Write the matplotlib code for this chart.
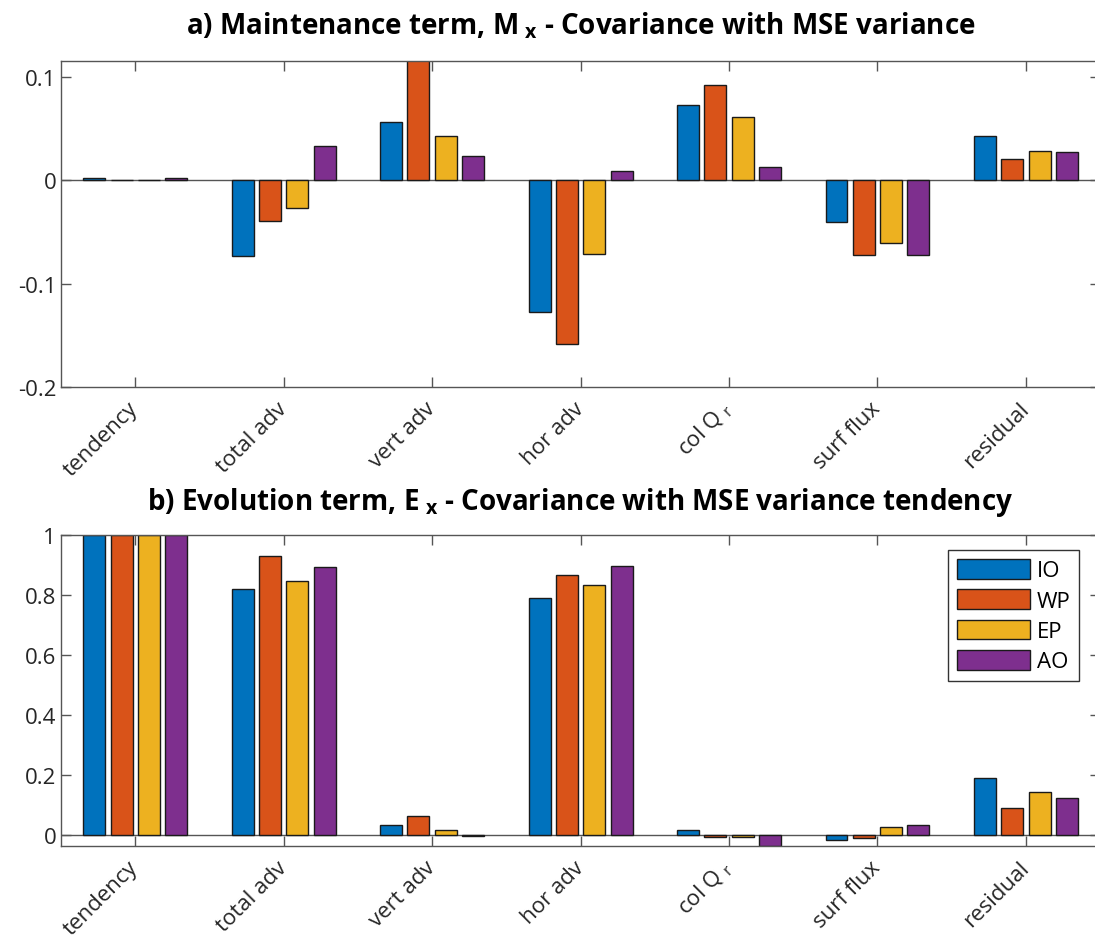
import numpy as np
import matplotlib
matplotlib.use('Agg')
import matplotlib.pyplot as plt
from matplotlib.patches import Patch

plt.rcParams['font.family'] = ['Open Sans', 'DejaVu Sans']
plt.rcParams['mathtext.fontset'] = 'custom'
plt.rcParams['mathtext.rm'] = 'Open Sans'
plt.rcParams['mathtext.bf'] = 'Open Sans:bold'

categories = ['tendency', 'total adv', 'vert adv', 'hor adv',
              'col Q$_\\mathregular{\\ r}$', 'surf flux', 'residual']
regions = ['IO', 'WP', 'EP', 'AO']
colors = ['#0072BD', '#D95319', '#EDB120', '#7E2F8E']

# a) maintenance term
maint_io = [0.002, -0.073, 0.056, -0.128, 0.072, -0.041, 0.043]
maint_wp = [0.0, -0.040, 0.118, -0.158, 0.092, -0.072, 0.020]
maint_ep = [0.0, -0.027, 0.043, -0.071, 0.061, -0.061, 0.028]
maint_ao = [0.002, 0.033, 0.023, 0.009, 0.013, -0.072, 0.027]

# b) evolution term
evol_io = [1.0, 0.82, 0.032, 0.789, 0.017, -0.016, 0.19]
evol_wp = [1.0, 0.93, 0.063, 0.866, -0.008, -0.011, 0.089]
evol_ep = [1.0, 0.847, 0.017, 0.833, -0.008, 0.028, 0.144]
evol_ao = [1.0, 0.893, -0.003, 0.896, -0.037, 0.032, 0.124]

yticks_a = [-0.2, -0.1, 0, 0.1]
yticklabels_a = ['-0.2', '-0.1', '0', '0.1']
yticks_b = [0, 0.2, 0.4, 0.6, 0.8, 1]
yticklabels_b = ['0', '0.2', '0.4', '0.6', '0.8', '1']

fig = plt.figure(figsize=(10.95, 9.45), dpi=100)
ax1 = fig.add_axes([0.0557, 0.5894, 0.949, 0.345])
ax2 = fig.add_axes([0.0557, 0.1037, 0.949, 0.329])

x = np.arange(1, len(categories) + 1)
step = 0.184
width = 0.148


def draw_panel(ax, series, ylim, yticks, yticklabels, title, pad):
    for i, vals in enumerate(series):
        ax.bar(x + (i - 1.5) * step, vals, width=width, color=colors[i],
               edgecolor='#1a1a1a', linewidth=1, zorder=2)
    ax.axhline(0, color='#555555', linewidth=1, zorder=1)
    ax.set_xlim(0.5, 7.5)
    ax.set_ylim(*ylim)
    ax.set_xticks(x)
    ax.set_xticklabels(categories, rotation=45, ha='right', va='center',
                       rotation_mode='anchor', fontsize=16, color='#262626')
    ax.set_yticks(yticks)
    ax.set_yticklabels(yticklabels, fontsize=16, color='#262626')
    ax.tick_params(direction='in', length=7.5, width=1, color='#555555',
                   top=True, right=True)
    ax.tick_params(axis='x', pad=13)
    for s in ax.spines.values():
        s.set_color('#555555')
        s.set_linewidth(1)
    ax.set_title(title, fontsize=20, fontweight='bold', pad=pad, color='black')


draw_panel(ax1, [maint_io, maint_wp, maint_ep, maint_ao], (-0.2, 0.115),
           yticks_a, yticklabels_a,
           r'a) Maintenance term, M$_{\mathbf{\ x}}$ - Covariance with MSE variance', 20)
draw_panel(ax2, [evol_io, evol_wp, evol_ep, evol_ao], (-0.037, 1.0),
           yticks_b, yticklabels_b,
           r'b) Evolution term, E$_{\mathbf{\ x}}$ - Covariance with MSE variance tendency', 19)

handles = [Patch(facecolor=c, edgecolor='#1a1a1a', linewidth=1) for c in colors]
leg = ax2.legend(handles, regions, loc='upper right', bbox_to_anchor=(0.98, 0.952),
                 borderaxespad=0, fontsize=16, handlelength=3.3, handleheight=1.0,
                 handletextpad=0.3, labelspacing=0.35, borderpad=0.4,
                 fancybox=False, framealpha=1)
leg.get_frame().set_edgecolor('#333333')
leg.get_frame().set_linewidth(1)

fig.savefig('out.png', dpi=100)
